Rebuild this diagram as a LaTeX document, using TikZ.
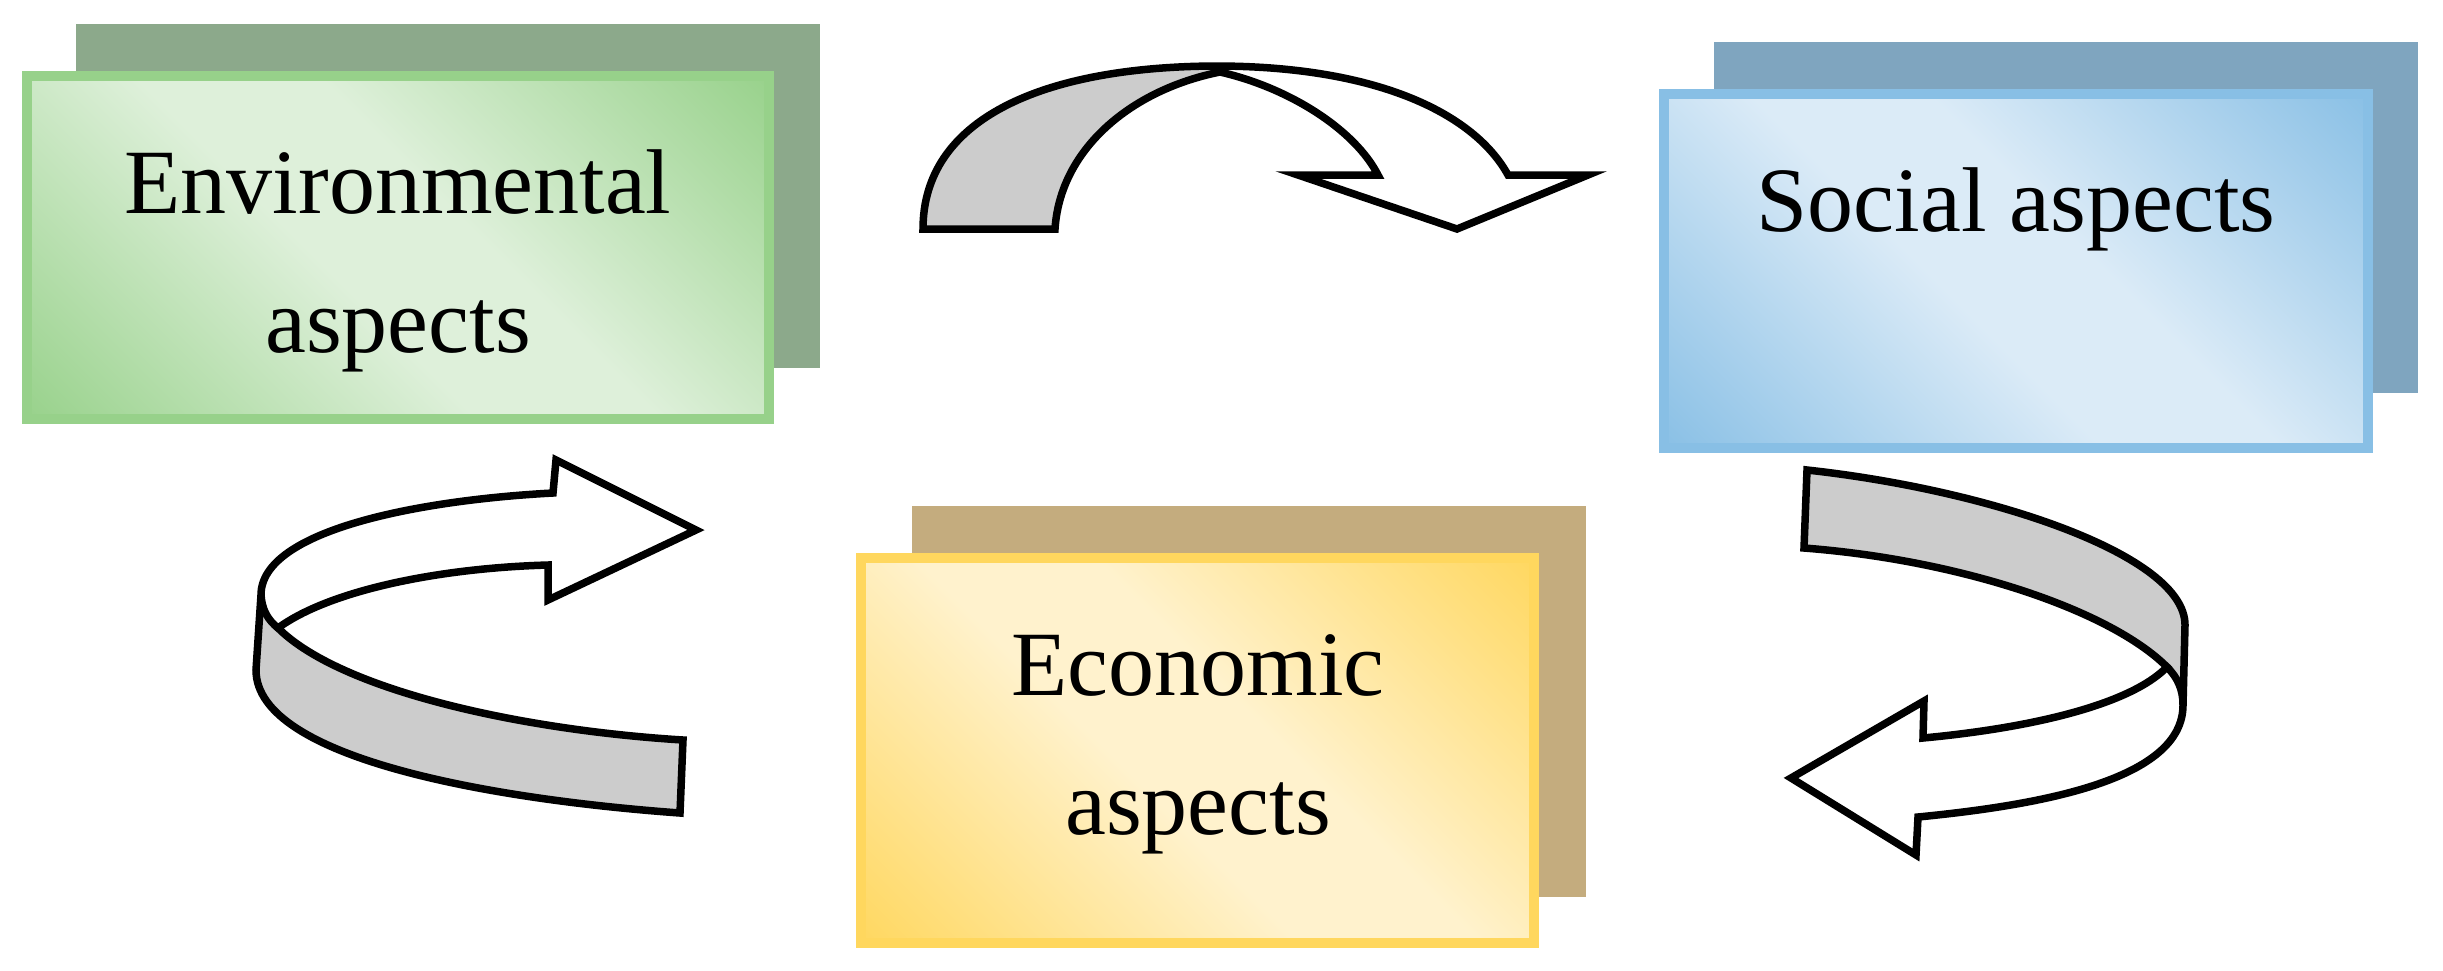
\documentclass[tikz,border=0pt]{standalone}
\usepackage{fontspec}
\setmainfont{Liberation Serif}
\definecolor{gDark}{HTML}{97D18A}
\definecolor{gLight}{HTML}{DEF0DA}
\definecolor{gShadow}{HTML}{8CA98B}
\definecolor{bDark}{HTML}{88BFE5}
\definecolor{bLight}{HTML}{DBEBF7}
\definecolor{bShadow}{HTML}{7FA5BF}
\definecolor{yDark}{HTML}{FFD75E}
\definecolor{yLight}{HTML}{FFF2CD}
\definecolor{yShadow}{HTML}{C4AC7E}
\definecolor{ribbon}{HTML}{CCCCCC}
\pgfdeclareverticalshading{gShade}{100bp}{color(0bp)=(gDark); color(14bp)=(gDark); color(44bp)=(gLight); color(56bp)=(gLight); color(86bp)=(gDark); color(100bp)=(gDark)}
\pgfdeclareverticalshading{bShade}{100bp}{color(0bp)=(bDark); color(14bp)=(bDark); color(44bp)=(bLight); color(56bp)=(bLight); color(86bp)=(bDark); color(100bp)=(bDark)}
\pgfdeclareverticalshading{yShade}{100bp}{color(0bp)=(yDark); color(14bp)=(yDark); color(44bp)=(yLight); color(56bp)=(yLight); color(86bp)=(yDark); color(100bp)=(yDark)}
\begin{document}
\begin{tikzpicture}[x=1pt,y=-1pt,
  shadowbox/.style={rectangle, draw=none, inner sep=0pt},
  frontbox/.style={rectangle, inner sep=0pt, line width=10pt, shade, shading angle=-45},
  lbl/.style={inner sep=0pt, anchor=base, font=\fontsize{92}{139}\selectfont},
  arrowline/.style={draw=black, line width=7.5pt, line join=miter, miter limit=20},
  ribbonfill/.style={fill=ribbon}]
\useasboundingbox (0,0) rectangle (2443,970);
\fill[white] (0,0) rectangle (2443,970);

% Environmental
\node[shadowbox, fill=gShadow, minimum width=744pt, minimum height=344pt] (envS) at (448,196) {};
\node[frontbox, draw=gDark, shading=gShade, minimum width=742pt, minimum height=343pt] (env) at (398,247.5) {};
\node[lbl] (envA) at (398,213) {Environmental};
\node[lbl] (envB) at (398,352) {aspects};

% Social
\node[shadowbox, fill=bShadow, minimum width=704pt, minimum height=351pt] (socS) at (2066,217.5) {};
\node[frontbox, draw=bDark, shading=bShade, minimum width=704pt, minimum height=354pt] (soc) at (2016,271) {};
\node[lbl] (socA) at (2016,231) {Social aspects};

% Economic
\node[shadowbox, fill=yShadow, minimum width=674pt, minimum height=391pt] (ecoS) at (1249,701.5) {};
\node[frontbox, draw=yDark, shading=yShade, minimum width=673pt, minimum height=385pt] (eco) at (1197.5,750.5) {};
\node[lbl] (ecoA) at (1198,695) {Economic};
\node[lbl] (ecoB) at (1198,834) {aspects};

% Top arrow (environmental -> social)
\fill[ribbonfill] (923,229) .. controls (923,120) and (1040,67) .. (1215,66) -- (1220,72) .. controls (1130,90) and (1060,150) .. (1055,229) -- cycle;
\draw[arrowline] (923,229) .. controls (923,120) and (1040,67) .. (1215,66) .. controls (1380,66) and (1475,115) .. (1508,175) -- (1588,175) -- (1457,229) -- (1298,175) -- (1378,175) .. controls (1355,130) and (1290,88) .. (1220,72) .. controls (1130,90) and (1060,150) .. (1055,229) -- cycle;

% Right arrow (social -> economic)
\fill[ribbonfill] (1807,470) .. controls (1990,490) and (2185,555) .. (2185,625) -- (2183,705) .. controls (2183,690) and (2178,678) .. (2167,667) .. controls (2110,610) and (1960,560) .. (1804,548) -- cycle;
\draw[arrowline] (1807,470) .. controls (1990,490) and (2185,555) .. (2185,625) -- (2183,705) .. controls (2183,780) and (2040,805) .. (1918,817) -- (1916,855) -- (1791,778) -- (1924,701) -- (1923,738) .. controls (2030,728) and (2130,705) .. (2167,667) .. controls (2110,610) and (1960,560) .. (1804,548) -- cycle;
\draw[arrowline] (2167,667) .. controls (2178,678) and (2183,690) .. (2183,705);

% Left arrow (economic -> environmental)
\fill[ribbonfill] (680,813) .. controls (500,800) and (256,760) .. (256,670) -- (261,595) .. controls (262,610) and (268,620) .. (278,628) .. controls (340,690) and (520,730) .. (683,740) -- cycle;
\draw[arrowline] (683,740) -- (680,813) .. controls (500,800) and (256,760) .. (256,670) -- (261,595) .. controls (261,530) and (420,500) .. (553,493) -- (556,460) -- (696,530) -- (548,600) -- (548,565) .. controls (440,568) and (330,590) .. (278,628) .. controls (340,690) and (520,730) .. (683,740) -- cycle;
\draw[arrowline] (261,595) .. controls (262,610) and (268,620) .. (278,628);
\end{tikzpicture}
\end{document}
